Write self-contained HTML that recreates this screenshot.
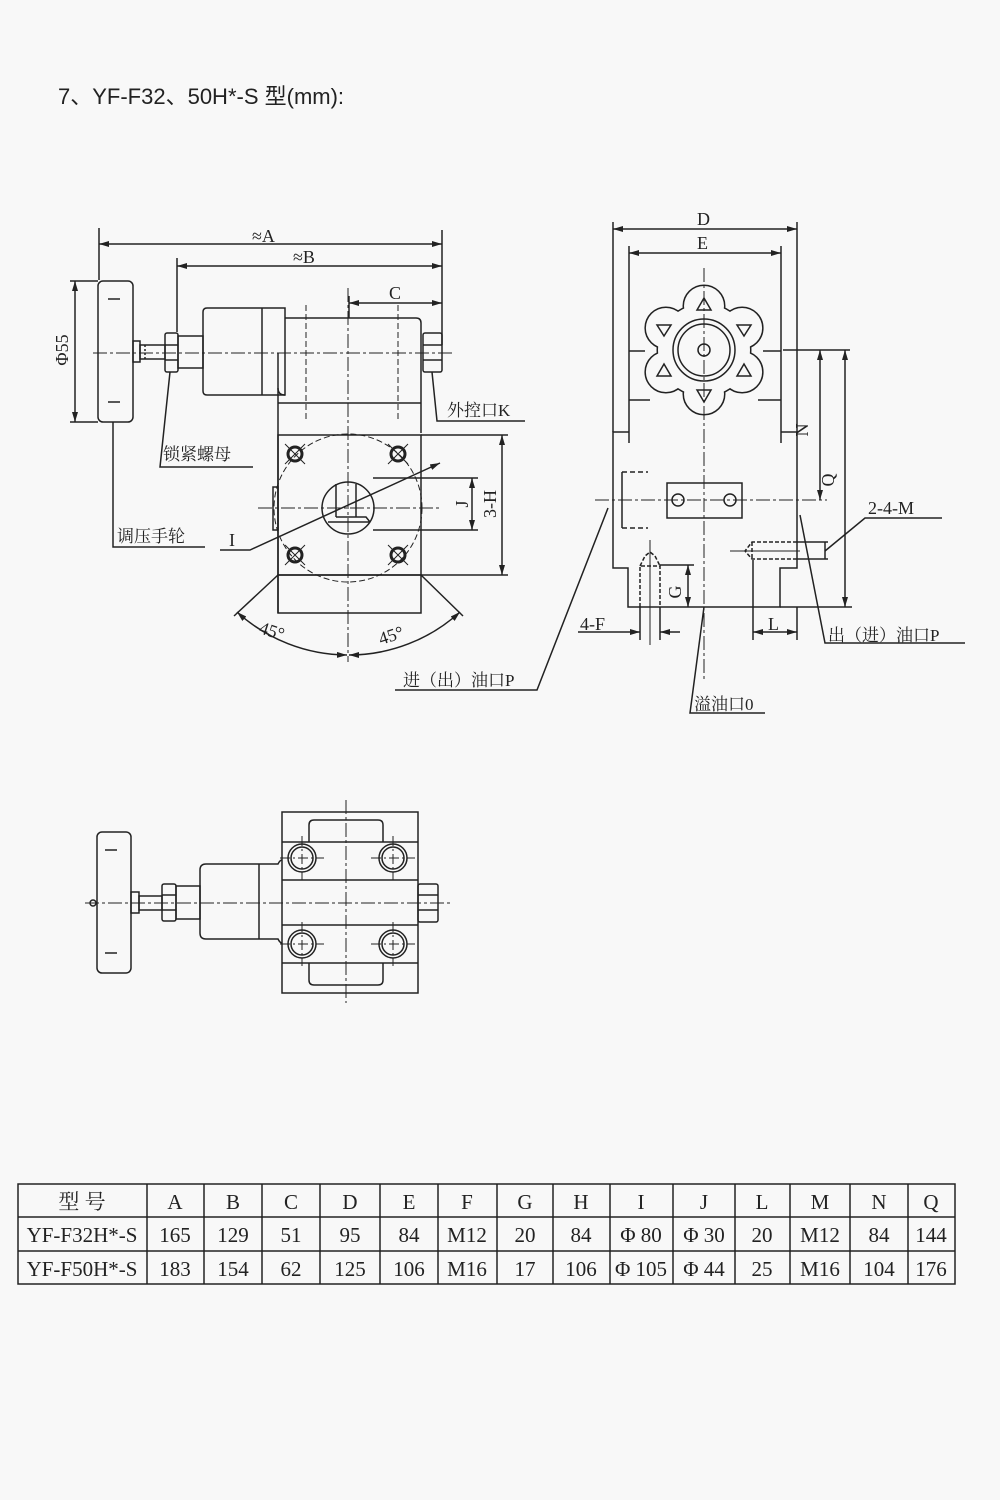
<!DOCTYPE html>
<html><head><meta charset="utf-8"><style>
html,body{margin:0;padding:0;background:#f8f8f8;}
svg{display:block}
text{font-family:"Liberation Serif","Noto Serif CJK SC",serif;fill:#222}
</style></head><body>
<svg width="1000" height="1500" viewBox="0 0 1000 1500" xmlns="http://www.w3.org/2000/svg">
<defs>
<marker id="ar" viewBox="0 0 10 6" refX="10" refY="3" markerWidth="10" markerHeight="6" orient="auto-start-reverse" markerUnits="userSpaceOnUse"><path d="M0,0 L10,3 L0,6 z" fill="#222"/></marker>
</defs>
<rect width="1000" height="1500" fill="#f8f8f8"/>
<text x="58" y="104" style="font-family:'Liberation Sans','Noto Sans CJK SC',sans-serif;font-size:22px">7、YF-F32、50H*-S 型(mm):</text>

<g stroke="#222" stroke-width="1.5" fill="none">
<line x1="99" y1="228" x2="99" y2="280"/>
<line x1="177" y1="258" x2="177" y2="332"/>
<line x1="442" y1="230" x2="442" y2="345"/>
<line x1="349" y1="296" x2="349" y2="318"/>
<line x1="99" y1="244" x2="442" y2="244" marker-start="url(#ar)" marker-end="url(#ar)"/>
<line x1="177" y1="266" x2="442" y2="266" marker-start="url(#ar)" marker-end="url(#ar)"/>
<line x1="349" y1="303" x2="442" y2="303" marker-start="url(#ar)" marker-end="url(#ar)"/>
<rect x="98" y="281" width="35" height="141" rx="5"/>
<line x1="108" y1="299" x2="120" y2="299"/><line x1="108" y1="402" x2="120" y2="402"/>
<line x1="70" y1="281" x2="98" y2="281"/><line x1="70" y1="422" x2="98" y2="422"/>
<line x1="75" y1="281" x2="75" y2="422" marker-start="url(#ar)" marker-end="url(#ar)"/>
<rect x="133" y="341" width="7" height="21"/>
<rect x="140" y="345" width="25" height="14"/>
<line x1="145" y1="345" x2="145" y2="359" stroke-dasharray="2 2"/>
<rect x="165" y="333" width="13" height="39" rx="2"/>
<line x1="165" y1="345" x2="178" y2="345"/><line x1="165" y1="360" x2="178" y2="360"/>
<rect x="178" y="336" width="25" height="32"/>
<path d="M203,312 Q203,308 207,308 L285,308 L285,395 L207,395 Q203,395 203,391 Z"/>
<line x1="262" y1="308" x2="262" y2="395"/>
<path d="M285,318 L416,318 Q421,318 421,323 L421,433"/>
<path d="M285,395 Q278,395 278,388 L278,353"/>
<line x1="278" y1="388" x2="278" y2="613"/>
<line x1="278" y1="403" x2="421" y2="403"/>
<rect x="278" y="435" width="143" height="140"/>
<rect x="278" y="575" width="143" height="38"/>
<rect x="273" y="487" width="5" height="43"/>
<rect x="423" y="333" width="19" height="39" rx="2"/>
<line x1="423" y1="345" x2="442" y2="345"/><line x1="423" y1="360" x2="442" y2="360"/>
<line x1="93" y1="353" x2="452" y2="353" stroke-width="1" stroke-dasharray="14 3 3 3"/>
<line x1="348" y1="288" x2="348" y2="662" stroke-width="1" stroke-dasharray="14 3 3 3"/>
<line x1="306" y1="305" x2="306" y2="420" stroke-width="1" stroke-dasharray="6 3"/>
<line x1="398" y1="305" x2="398" y2="420" stroke-width="1" stroke-dasharray="6 3"/>
<line x1="258" y1="508" x2="440" y2="508" stroke-width="1" stroke-dasharray="14 3 3 3"/>
<circle cx="348" cy="508" r="74" stroke-width="1" stroke-dasharray="6 3"/>
<g stroke-width="3"><circle cx="295" cy="454" r="7"/><circle cx="398" cy="454" r="7"/><circle cx="295" cy="555" r="7"/><circle cx="398" cy="555" r="7"/></g>
<g stroke-width="1"><path d="M285,444 L305,464 M305,444 L285,464 M388,444 L408,464 M408,444 L388,464 M285,545 L305,565 M305,545 L285,565 M388,545 L408,565 M408,545 L388,565"/></g>
<circle cx="348" cy="508" r="26"/>
<path d="M336,484 L336,517 M356,484 L356,517 M336,517 L366,517 L370,522 M328,522 L370,522"/>
<line x1="373" y1="478" x2="478" y2="478"/><line x1="373" y1="530" x2="478" y2="530"/>
<line x1="472" y1="478" x2="472" y2="530" marker-start="url(#ar)" marker-end="url(#ar)"/>
<line x1="421" y1="435" x2="508" y2="435"/><line x1="421" y1="575" x2="508" y2="575"/>
<line x1="502" y1="435" x2="502" y2="575" marker-start="url(#ar)" marker-end="url(#ar)"/>
<path d="M220,550 L250,550 L440,463" marker-end="url(#ar)"/>
<line x1="278" y1="575" x2="234" y2="616"/><line x1="421" y1="575" x2="463" y2="616"/>
<path d="M237,612 A165,165 0 0,0 347,655" marker-start="url(#ar)" marker-end="url(#ar)"/>
<path d="M349,655 A165,165 0 0,0 460,612" marker-start="url(#ar)" marker-end="url(#ar)"/>
<path d="M170,372 L160,467 L253,467"/>
<path d="M113,422 L113,547 L205,547"/>
<path d="M432,372 L437,421 L525,421"/>
<path d="M608,508 L537,690 L395,690"/>

<line x1="613" y1="222" x2="613" y2="432"/><line x1="797" y1="222" x2="797" y2="432"/>
<line x1="629" y1="246" x2="629" y2="443"/><line x1="781" y1="246" x2="781" y2="443"/>
<line x1="613" y1="229" x2="797" y2="229" marker-start="url(#ar)" marker-end="url(#ar)"/>
<line x1="629" y1="253" x2="781" y2="253" marker-start="url(#ar)" marker-end="url(#ar)"/>
<path d="M629,351 L645,351 M763,351 L781,351 M629,400 L650,400 M758,400 L781,400"/>
<path d="M629,432 L613,432 L613,568 L628,568 L628,607 L780,607 L780,568 L797,568 L797,432 L781,432"/>
<line x1="783" y1="350" x2="850" y2="350"/>
<line x1="780" y1="607" x2="852" y2="607"/>
<line x1="820" y1="350" x2="820" y2="500" marker-start="url(#ar)" marker-end="url(#ar)"/>
<line x1="845" y1="350" x2="845" y2="607" marker-start="url(#ar)" marker-end="url(#ar)"/>
</g>
<g>
<g stroke="#222" stroke-width="3" fill="#f8f8f8">
<circle cx="704" cy="350" r="46"/>
<circle cx="704" cy="306" r="20"/><circle cx="704" cy="394" r="20"/>
<circle cx="665.9" cy="328" r="20"/><circle cx="742.1" cy="328" r="20"/>
<circle cx="665.9" cy="372" r="20"/><circle cx="742.1" cy="372" r="20"/>
</g>
<g fill="#f8f8f8">
<circle cx="704" cy="350" r="46"/>
<circle cx="704" cy="306" r="20"/><circle cx="704" cy="394" r="20"/>
<circle cx="665.9" cy="328" r="20"/><circle cx="742.1" cy="328" r="20"/>
<circle cx="665.9" cy="372" r="20"/><circle cx="742.1" cy="372" r="20"/>
</g>
<g stroke="#222" stroke-width="1.5" fill="none">
<circle cx="704" cy="350" r="31"/><circle cx="704" cy="350" r="26"/><circle cx="704" cy="350" r="6"/>
<path d="M704,298 L697,310 L711,310 Z M704,402 L697,390 L711,390 Z M657,325 L671,325 L664,336 Z M751,325 L737,325 L744,336 Z M657,376 L671,376 L664,364 Z M751,376 L737,376 L744,364 Z"/>
</g>
</g>
<g stroke="#222" stroke-width="1.5" fill="none">
<line x1="704" y1="268" x2="704" y2="680" stroke-width="1" stroke-dasharray="14 3 3 3"/>
<line x1="595" y1="500" x2="827" y2="500" stroke-width="1" stroke-dasharray="14 3 3 3"/>
<rect x="667" y="483" width="75" height="35"/>
<circle cx="678" cy="500" r="6"/><circle cx="730" cy="500" r="6"/>
<line x1="622" y1="472" x2="622" y2="528"/>
<path d="M622,472 L648,472 M622,528 L648,528" stroke-dasharray="5 3"/>
<path d="M640,607 L640,566 L660,566 L660,607 M640,566 L645,556 L650,552 L655,556 L660,566" stroke-dasharray="4 2"/>
<line x1="650" y1="540" x2="650" y2="645" stroke-width="1"/>
<line x1="660" y1="565" x2="694" y2="565"/>
<line x1="688" y1="565" x2="688" y2="607" marker-start="url(#ar)" marker-end="url(#ar)"/>
<line x1="640" y1="607" x2="640" y2="640"/><line x1="660" y1="607" x2="660" y2="640"/>
<line x1="578" y1="632" x2="640" y2="632" marker-end="url(#ar)"/>
<line x1="680" y1="632" x2="660" y2="632" marker-end="url(#ar)"/>
<path d="M797,542 L752,542 L745,551 L752,559 L797,559 M752,542 L752,559" stroke-dasharray="4 2"/>
<line x1="730" y1="551" x2="800" y2="551" stroke-width="1"/>
<line x1="797" y1="542" x2="828" y2="542"/><line x1="797" y1="559" x2="828" y2="559"/>
<line x1="825" y1="542" x2="825" y2="559"/>
<line x1="753" y1="560" x2="753" y2="640"/><line x1="797" y1="607" x2="797" y2="640"/>
<line x1="753" y1="632" x2="797" y2="632" marker-start="url(#ar)" marker-end="url(#ar)"/>
<path d="M825,551 L865,518 L942,518"/>
<path d="M800,515 L825,643 L965,643"/>
<path d="M704,607 L690,713 L765,713"/>

<rect x="97" y="832" width="34" height="141" rx="5"/>
<line x1="105" y1="850" x2="117" y2="850"/><line x1="105" y1="953" x2="117" y2="953"/>
<rect x="131" y="892" width="8" height="21"/>
<rect x="139" y="896" width="23" height="14"/>
<rect x="162" y="884" width="14" height="37" rx="2"/>
<line x1="162" y1="895" x2="176" y2="895"/><line x1="162" y1="910" x2="176" y2="910"/>
<rect x="176" y="886" width="24" height="33"/>
<path d="M200,870 Q200,864 206,864 L278,864 Q280,860 282,860 M200,933 Q200,939 206,939 L278,939 Q280,943 282,943 M200,870 L200,933"/>
<line x1="259" y1="864" x2="259" y2="939"/>
<rect x="282" y="812" width="136" height="181"/>
<path d="M282,842 L418,842 M282,880 L418,880 M282,925 L418,925 M282,963 L418,963"/>
<path d="M309,842 L309,825 Q309,820 314,820 L378,820 Q383,820 383,825 L383,842"/>
<path d="M309,963 L309,980 Q309,985 314,985 L378,985 Q383,985 383,980 L383,963"/>
<g><circle cx="302" cy="858" r="14"/><circle cx="302" cy="858" r="11"/><circle cx="393" cy="858" r="14"/><circle cx="393" cy="858" r="11"/>
<circle cx="302" cy="944" r="14"/><circle cx="302" cy="944" r="11"/><circle cx="393" cy="944" r="14"/><circle cx="393" cy="944" r="11"/></g>
<g stroke-width="1" stroke-dasharray="10 3 2 3"><path d="M280,858 L324,858 M302,836 L302,880 M371,858 L415,858 M393,836 L393,880 M280,944 L324,944 M302,922 L302,966 M371,944 L415,944 M393,922 L393,966"/></g>
<rect x="418" y="884" width="20" height="38" rx="2"/>
<line x1="418" y1="895" x2="438" y2="895"/><line x1="418" y1="910" x2="438" y2="910"/>
<line x1="85" y1="903" x2="452" y2="903" stroke-width="1" stroke-dasharray="14 3 3 3"/>
<line x1="346" y1="800" x2="346" y2="1003" stroke-width="1" stroke-dasharray="14 3 3 3"/>
<circle cx="93" cy="903" r="3"/>

<rect x="18" y="1184" width="937" height="100"/>
<path d="M18,1217 L955,1217 M18,1251 L955,1251"/>
<path d="M147,1184 V1284 M204,1184 V1284 M262,1184 V1284 M320,1184 V1284 M380,1184 V1284 M438,1184 V1284 M497,1184 V1284 M553,1184 V1284 M610,1184 V1284 M673,1184 V1284 M735,1184 V1284 M790,1184 V1284 M850,1184 V1284 M908,1184 V1284"/>
</g>

<g font-size="18">
<text x="252" y="242">≈A</text>
<text x="293" y="263">≈B</text>
<text x="389" y="299">C</text>
<text x="697" y="225">D</text>
<text x="697" y="249">E</text>
<text x="229" y="546">I</text>
<text x="259" y="637" transform="rotate(18 272 632)">45°</text>
<text x="378" y="641" transform="rotate(-18 392 634)">45°</text>
<text transform="translate(68,350) rotate(-90)" text-anchor="middle">Φ55</text>
<text transform="translate(468,504) rotate(-90)" text-anchor="middle">J</text>
<text transform="translate(496,504) rotate(-90)" text-anchor="middle">3-H</text>
<text transform="translate(808,430) rotate(-90)" text-anchor="middle">N</text>
<text transform="translate(834,480) rotate(-90)" text-anchor="middle">Q</text>
<text transform="translate(681,592) rotate(-90)" text-anchor="middle">G</text>
<text x="768" y="630">L</text>
<text x="580" y="630">4-F</text>
<text x="868" y="514">2-4-M</text>
</g>
<g font-size="17">
<text x="163" y="460">锁紧螺母</text>
<text x="117" y="542">调压手轮</text>
<text x="447" y="416">外控口K</text>
<text x="403" y="686">进（出）油口P</text>
<text x="828" y="641">出（进）油口P</text>
<text x="694" y="710">溢油口0</text>
</g>
<g font-size="21" text-anchor="middle">
<text x="82" y="1209">型 号</text>
<text x="175" y="1209">A</text><text x="233" y="1209">B</text><text x="291" y="1209">C</text><text x="350" y="1209">D</text><text x="409" y="1209">E</text><text x="467" y="1209">F</text><text x="525" y="1209">G</text><text x="581" y="1209">H</text><text x="641" y="1209">I</text><text x="704" y="1209">J</text><text x="762" y="1209">L</text><text x="820" y="1209">M</text><text x="879" y="1209">N</text><text x="931" y="1209">Q</text>
<text x="82" y="1242">YF-F32H*-S</text>
<text x="175" y="1242">165</text><text x="233" y="1242">129</text><text x="291" y="1242">51</text><text x="350" y="1242">95</text><text x="409" y="1242">84</text><text x="467" y="1242">M12</text><text x="525" y="1242">20</text><text x="581" y="1242">84</text><text x="641" y="1242">Φ 80</text><text x="704" y="1242">Φ 30</text><text x="762" y="1242">20</text><text x="820" y="1242">M12</text><text x="879" y="1242">84</text><text x="931" y="1242">144</text>
<text x="82" y="1276">YF-F50H*-S</text>
<text x="175" y="1276">183</text><text x="233" y="1276">154</text><text x="291" y="1276">62</text><text x="350" y="1276">125</text><text x="409" y="1276">106</text><text x="467" y="1276">M16</text><text x="525" y="1276">17</text><text x="581" y="1276">106</text><text x="641" y="1276">Φ 105</text><text x="704" y="1276">Φ 44</text><text x="762" y="1276">25</text><text x="820" y="1276">M16</text><text x="879" y="1276">104</text><text x="931" y="1276">176</text>
</g>
</svg>
</body></html>
